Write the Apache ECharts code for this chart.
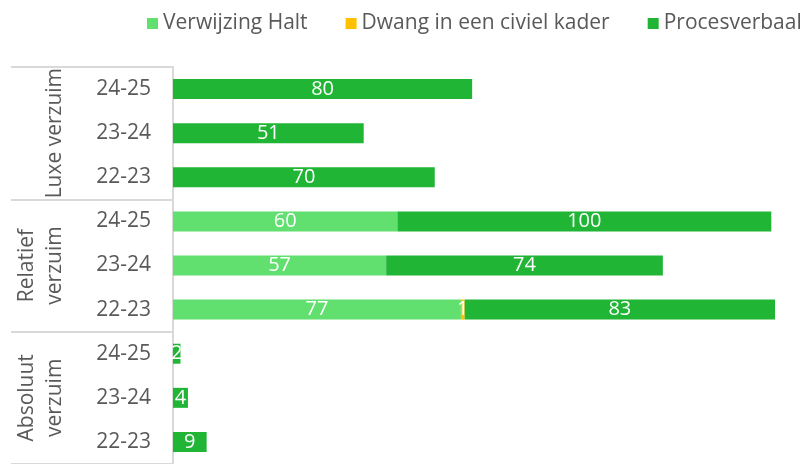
<!DOCTYPE html>
<html>
<head>
<meta charset="utf-8">
<script src="https://cdn.jsdelivr.net/npm/echarts@6/dist/echarts.min.js"></script>
<style>
  html, body { margin: 0; padding: 0; background: #fff; }
  #main { width: 801px; height: 464px; }
</style>
</head>
<body>
<div id="main"></div>
<script>
// categorieen van boven naar onder
var groups = ['Luxe verzuim', 'Relatief\nverzuim', 'Absoluut\nverzuim'];
var years = ['24-25', '23-24', '22-23'];
var categories = [];
groups.forEach(function (g) {
  years.forEach(function (y) { categories.push(g + '|' + y); });
});

// waarden per serie (zelfde volgorde als categories)
var halt = [null, null, null, 60, 57, 77, null, null, null];
var dwang = [null, null, null, null, null, 1, null, null, null];
var procesverbaal = [80, 51, 70, 100, 74, 83, 2, 4, 9];

var font = 'Open Sans';
var textColor = '#595959';
var lineColor = '#d9d9d9';

var chart = echarts.init(document.getElementById('main'));

function bar(name, data, color) {
  return {
    name: name,
    type: 'bar',
    stack: 'totaal',
    data: data,
    barWidth: 20,
    itemStyle: { color: color },
    label: {
      show: true,
      position: 'inside',
      color: '#fff',
      fontFamily: font,
      fontSize: 20
    }
  };
}

var option = {
  animation: false,
  textStyle: { fontFamily: font },
  legend: {
    top: 8,
    left: 142,
    width: 700,
    itemWidth: 11,
    itemHeight: 11,
    itemGap: 38,
    icon: 'rect',
    textStyle: { color: textColor, fontFamily: font, fontSize: 21 }
  },
  grid: { left: 173, right: 11, top: 67, bottom: -8 },
  xAxis: {
    type: 'value',
    min: 0,
    max: 165,
    show: false
  },
  yAxis: [{
    type: 'category',
    data: categories,
    inverse: true,
    axisLine: { show: true, lineStyle: { color: lineColor, width: 2 } },
    axisTick: {
      show: true,
      length: 162,
      interval: function (index) { return index % 3 === 0; },
      lineStyle: { color: lineColor, width: 2 }
    },
    axisLabel: {
      color: textColor,
      fontFamily: font,
      fontSize: 21,
      margin: 22,
      interval: 0,
      formatter: function (v) { return v.split('|')[1]; }
    }
  }, {
    type: 'category',
    data: groups,
    inverse: true,
    position: 'left',
    axisLine: { show: false },
    axisTick: { show: false },
    axisLabel: {
      rotate: 90,
      color: textColor,
      fontFamily: font,
      fontSize: 21,
      lineHeight: 28,
      margin: 104,
      interval: 0
    }
  }],
  series: [
    bar('Verwijzing Halt', halt, '#61E070'),
    bar('Dwang in een civiel kader', dwang, '#FFC000'),
    bar('Procesverbaal', procesverbaal, '#21B536')
  ]
};

chart.setOption(option);
</script>
</body>
</html>
